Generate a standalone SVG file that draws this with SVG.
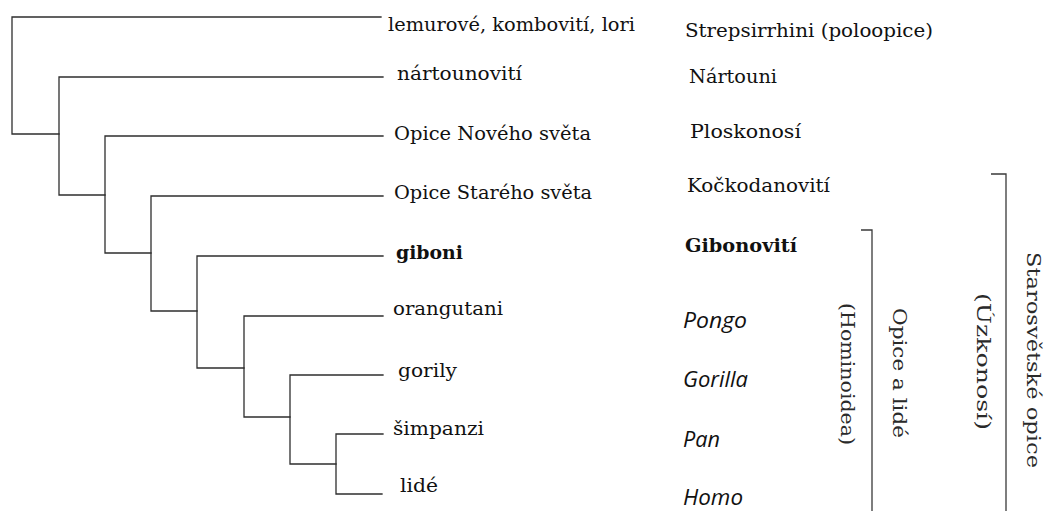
<svg xmlns="http://www.w3.org/2000/svg" width="1045" height="511" viewBox="0 0 1045 511">
  <style>
    .bg { fill: #ffffff; }
    .edge { fill: none; stroke: #2e2e2e; stroke-width: 1.3; stroke-linecap: square; }
    .lbl { font-family: "DejaVu Serif", "Liberation Serif", serif; font-size: 18px; fill: #111111; }
    .bold { font-weight: bold; }
    .genus { font-family: "Open Sans", "Liberation Sans", sans-serif; font-style: italic; font-size: 21px; fill: #111111; }
    .group { font-family: "DejaVu Serif", "Liberation Serif", serif; font-size: 19px; fill: #2a2a2a; }
    .bracket { fill: none; stroke: #3a3a3a; stroke-width: 1.3; }
  </style>
  <rect class="bg" width="1045" height="511"/>

  <!-- tree branches -->
  <g id="connectors">
    <path class="edge" d="M381 17 H12 V134 H59"/>
    <path class="edge" d="M383 77 H59 V195 H105"/>
    <path class="edge" d="M383 136 H105 V253 H151"/>
    <path class="edge" d="M383 196 H151 V311 H197"/>
    <path class="edge" d="M383 256 H197 V368 H244"/>
    <path class="edge" d="M383 316 H244 V417 H290"/>
    <path class="edge" d="M383 375 H290 V464 H336"/>
    <path class="edge" d="M383 434 H336 V494 H382"/>
  </g>

  <!-- leaves: common name and taxon name -->
  <g id="node-strepsirrhini">
    <text class="lbl" x="388" y="31" textLength="247" lengthAdjust="spacingAndGlyphs">lemurové, kombovití, lori</text>
    <text class="lbl" x="685" y="37" textLength="248" lengthAdjust="spacingAndGlyphs">Strepsirrhini (poloopice)</text>
  </g>
  <g id="node-tarsiers">
    <text class="lbl" x="397" y="80" textLength="125" lengthAdjust="spacingAndGlyphs">nártounovití</text>
    <text class="lbl" x="689" y="83" textLength="88" lengthAdjust="spacingAndGlyphs">Nártouni</text>
  </g>
  <g id="node-new-world">
    <text class="lbl" x="394" y="140" textLength="197" lengthAdjust="spacingAndGlyphs">Opice Nového světa</text>
    <text class="lbl" x="690" y="138" textLength="111" lengthAdjust="spacingAndGlyphs">Ploskonosí</text>
  </g>
  <g id="node-old-world">
    <text class="lbl" x="394" y="199" textLength="198" lengthAdjust="spacingAndGlyphs">Opice Starého světa</text>
    <text class="lbl" x="687" y="192" textLength="143" lengthAdjust="spacingAndGlyphs">Kočkodanovití</text>
  </g>
  <g id="node-gibbons">
    <text class="lbl bold" x="396" y="259" textLength="67" lengthAdjust="spacingAndGlyphs">giboni</text>
    <text class="lbl bold" x="685" y="252" textLength="112" lengthAdjust="spacingAndGlyphs">Gibonovití</text>
  </g>
  <g id="node-orangutans">
    <text class="lbl" x="393" y="315" textLength="110" lengthAdjust="spacingAndGlyphs">orangutani</text>
    <text class="genus" x="683" y="328" textLength="64" lengthAdjust="spacingAndGlyphs">Pongo</text>
  </g>
  <g id="node-gorillas">
    <text class="lbl" x="398" y="377" textLength="59" lengthAdjust="spacingAndGlyphs">gorily</text>
    <text class="genus" x="683" y="387" textLength="65" lengthAdjust="spacingAndGlyphs">Gorilla</text>
  </g>
  <g id="node-chimpanzees">
    <text class="lbl" x="393" y="435" textLength="91" lengthAdjust="spacingAndGlyphs">šimpanzi</text>
    <text class="genus" x="683" y="447" textLength="37" lengthAdjust="spacingAndGlyphs">Pan</text>
  </g>
  <g id="node-humans">
    <text class="lbl" x="400" y="492" textLength="38" lengthAdjust="spacingAndGlyphs">lidé</text>
    <text class="genus" x="683" y="505" textLength="60" lengthAdjust="spacingAndGlyphs">Homo</text>
  </g>

  <!-- clade brackets with vertical captions -->
  <g id="clade-hominoidea">
    <path class="bracket" d="M861 230 H872 V511"/>
    <text class="group" transform="translate(841 303) rotate(90)" textLength="142" lengthAdjust="spacingAndGlyphs">(Hominoidea)</text>
    <text class="group" transform="translate(893 308) rotate(90)" textLength="130" lengthAdjust="spacingAndGlyphs">Opice a lidé</text>
  </g>
  <g id="clade-catarrhini">
    <path class="bracket" d="M991 174 H1006 V511"/>
    <text class="group" transform="translate(977 293) rotate(90)" textLength="137" lengthAdjust="spacingAndGlyphs">(Úzkonosí)</text>
    <text class="group" transform="translate(1027 252) rotate(90)" textLength="216" lengthAdjust="spacingAndGlyphs">Starosvětské opice</text>
  </g>
</svg>
